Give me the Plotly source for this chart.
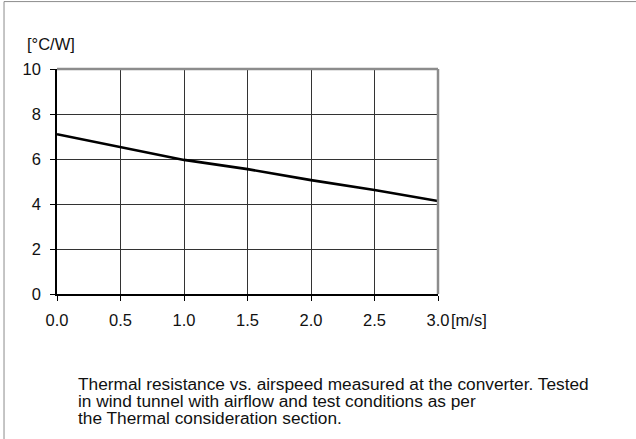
import plotly.graph_objects as go

airspeed = [0.0, 0.5, 1.0, 1.5, 2.0, 2.5, 3.0]
thermal_res = [7.1, 6.52, 5.96, 5.55, 5.06, 4.62, 4.13]
x_ticks = [0.0, 0.5, 1.0, 1.5, 2.0, 2.5, 3.0]
x_labels = ["0.0", "0.5", "1.0", "1.5", "2.0", "2.5", "3.0"]
y_ticks = [0, 2, 4, 6, 8, 10]
y_labels = ["0", "2", "4", "6", "8", "10"]
y_unit = "[°C/W]"
x_unit = "[m/s]"
caption_lines = [
    "Thermal resistance vs. airspeed measured at the converter. Tested",
    "in wind tunnel with airflow and test conditions as per",
    "the Thermal consideration section.",
]

W, H = 636, 439
L, R, T, B = 56.5, 437.7, 69, 294.3

def px(x):
    return (x - L) / (R - L)

def py(y):
    return (B - y) / (B - T)

FONT = "Liberation Sans, Arial, Helvetica, sans-serif"
TICK_SIZE = 16.5
CAP_SIZE = 17.3

fig = go.Figure()
fig.add_trace(go.Scatter(x=airspeed, y=thermal_res, mode="lines",
                         line=dict(color="black", width=2.6), showlegend=False,
                         hoverinfo="skip"))

fig.update_layout(
    width=W, height=H,
    margin=dict(l=L, r=W - R, t=T, b=H - B, pad=0),
    paper_bgcolor="white", plot_bgcolor="white",
    font=dict(family=FONT, size=TICK_SIZE, color="#111111"),
    xaxis=dict(range=[0, 3], tickvals=x_ticks, ticktext=x_labels,
               showgrid=True, gridcolor="#333333", gridwidth=1,
               showline=True, linecolor="black", linewidth=1.5,
               ticks="outside", ticklen=5, tickcolor="black", tickwidth=1,
               ticklabelstandoff=5,
               zeroline=False, fixedrange=True,
               tickfont=dict(family=FONT, size=TICK_SIZE, color="#111111")),
    yaxis=dict(range=[0, 10], tickvals=y_ticks, ticktext=y_labels,
               showgrid=True, gridcolor="#333333", gridwidth=1,
               showline=True, linecolor="black", linewidth=1.5,
               ticks="outside", ticklen=5, tickcolor="black", tickwidth=1,
               ticklabelstandoff=6,
               zeroline=False, fixedrange=True,
               tickfont=dict(family=FONT, size=TICK_SIZE, color="#111111")),
)

# top and right frame edges (gray)
fig.add_shape(type="line", xref="paper", yref="paper", x0=0, x1=1, y0=1, y1=1,
              line=dict(color="#8c8c8c", width=2.5))
fig.add_shape(type="line", xref="paper", yref="paper", x0=1, x1=1, y0=0, y1=1,
              line=dict(color="#8c8c8c", width=2.5))

# outer page border: top and left
fig.add_shape(type="line", xref="paper", yref="paper", x0=px(3.5), x1=px(640),
              y0=py(1.5), y1=py(1.5), line=dict(color="#8c8c8c", width=1))
fig.add_shape(type="line", xref="paper", yref="paper", x0=px(3.5), x1=px(3.5),
              y0=py(1.5), y1=py(445), line=dict(color="#8c8c8c", width=1))

fig.add_annotation(text=y_unit, xref="paper", yref="paper", x=px(24), y=py(44),
                   xanchor="left", yanchor="middle", showarrow=False,
                   font=dict(family=FONT, size=TICK_SIZE, color="#111111"))
fig.add_annotation(text=x_unit, xref="paper", yref="paper", x=px(449), y=py(320.5),
                   xanchor="left", yanchor="middle", showarrow=False,
                   font=dict(family=FONT, size=TICK_SIZE, color="#111111"))

line_centers = [384.5, 401.5, 418.5]
for txt, yc in zip(caption_lines, line_centers):
    fig.add_annotation(text=txt, xref="paper", yref="paper", x=px(75.7), y=py(yc),
                       xanchor="left", yanchor="middle", align="left", showarrow=False,
                       font=dict(family=FONT, size=CAP_SIZE, color="#111111"))

fig.write_html("out.html", config={"displayModeBar": False},
               post_script="document.body.style.margin='0';")
